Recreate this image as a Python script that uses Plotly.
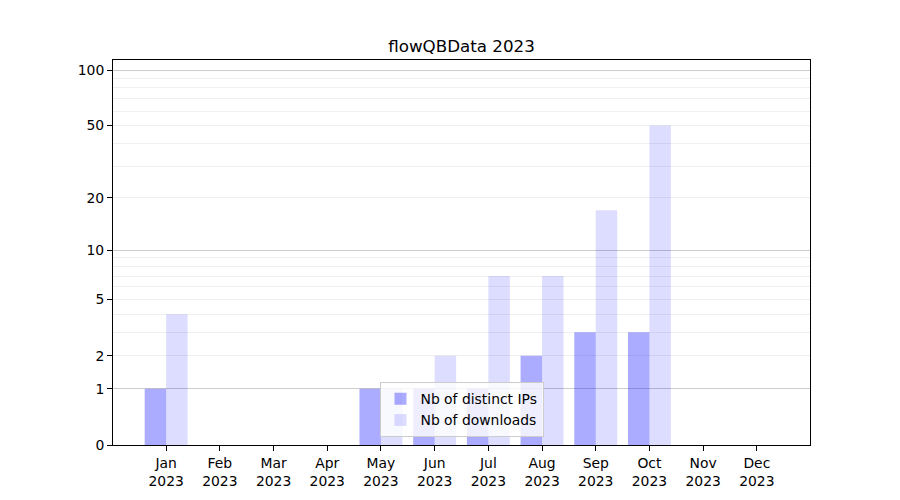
import math
import plotly.graph_objects as go

months = ["Jan", "Feb", "Mar", "Apr", "May", "Jun", "Jul", "Aug", "Sep", "Oct", "Nov", "Dec"]
year = "2023"
distinct_ips = [1, 0, 0, 0, 1, 1, 1, 2, 3, 3, 0, 0]
downloads = [4, 0, 0, 0, 1, 2, 7, 7, 17, 50, 0, 0]
y_tick_labels = [0, 1, 2, 5, 10, 20, 50, 100]
major_grid = [1, 10, 100]
minor_grid = [2, 3, 4, 5, 6, 7, 8, 9, 20, 30, 40, 50, 60, 70, 80, 90]


def tr(v):
    return math.log10(v + 1)


x = list(range(len(months)))
ticktext = [f"{m}<br>{year}" for m in months]

fig = go.Figure()
fig.add_trace(go.Bar(x=x, y=[tr(v) for v in distinct_ips], name="Nb of distinct IPs",
                     marker=dict(color="rgba(0,0,255,0.33)", line=dict(width=0)),
                     customdata=distinct_ips, hovertemplate="%{customdata}<extra></extra>"))
fig.add_trace(go.Bar(x=x, y=[tr(v) for v in downloads], name="Nb of downloads",
                     marker=dict(color="rgba(0,0,255,0.135)", line=dict(width=0)),
                     customdata=downloads, hovertemplate="%{customdata}<extra></extra>"))
# invisible trace to activate the overlay axis for major gridlines
fig.add_trace(go.Scatter(x=[None], y=[None], yaxis="y2", showlegend=False, hoverinfo="skip"))

yrange = [0, 2.058]
font = dict(family="DejaVu Sans", size=13.9, color="black")

fig.update_layout(
    width=900, height=500,
    margin=dict(l=113, r=90, t=60, b=55),
    paper_bgcolor="white", plot_bgcolor="white",
    font=font,
    barmode="group", bargap=0.2, bargroupgap=0,
    title=dict(text="flowQBData 2023", x=0.5, xref="paper", xanchor="center",
               y=1 - 46 / 500, yref="container", yanchor="middle",
               font=dict(family="DejaVu Sans", size=16.7, color="black")),
    xaxis=dict(range=[-0.99, 11.99], tickvals=x, ticktext=ticktext,
               showgrid=False, zeroline=False, showline=True, mirror=True,
               linecolor="black", linewidth=1, ticks="outside", ticklen=5,
               tickcolor="black"),
    yaxis=dict(range=yrange, tickvals=[tr(v) for v in y_tick_labels],
               ticktext=[str(v) for v in y_tick_labels],
               showgrid=False, zeroline=False, showline=True, mirror=True,
               linecolor="black", linewidth=1, ticks="outside", ticklen=5,
               tickcolor="black",
               minor=dict(tickvals=[tr(v) for v in minor_grid], showgrid=True,
                          gridcolor="#efefef", gridwidth=1, ticks="")),
    yaxis2=dict(range=yrange, overlaying="y", tickvals=[tr(v) for v in major_grid],
                showgrid=True, gridcolor="#cccccc", gridwidth=1, showticklabels=False,
                ticks="", zeroline=False, showline=False),
    legend=dict(x=0.5, xanchor="center", y=0.02, yanchor="bottom",
                bgcolor="rgba(255,255,255,0.8)", bordercolor="#cccccc", borderwidth=1,
                font=font, tracegroupgap=0),
    showlegend=True,
)

fig.write_html("out.html", config={"displayModeBar": False},
               post_script="document.body.style.margin='0px';")
